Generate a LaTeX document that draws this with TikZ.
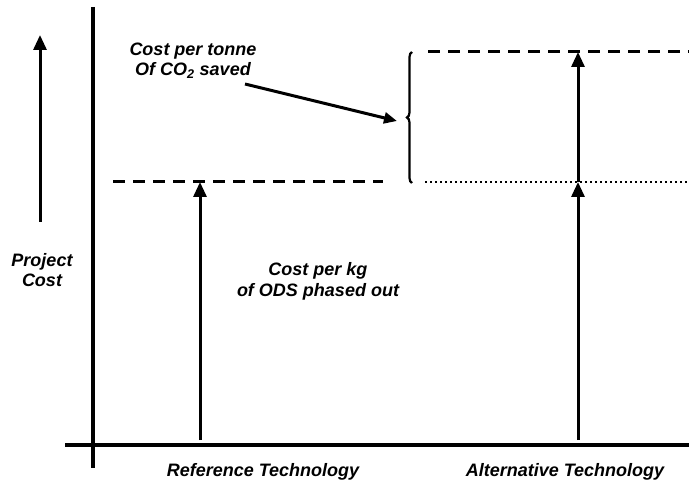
\documentclass[tikz,border=0pt]{standalone}
\usepackage{fontspec}
\setmainfont{Liberation Sans}
\usetikzlibrary{arrows.meta,decorations.pathreplacing}
\tikzset{
  lbl/.style={font=\fontsize{18}{21}\selectfont\bfseries\itshape, align=center, inner sep=0pt},
  axis/.style={line width=3.2pt},
  rise/.style={line width=3pt, -{Triangle[width=13pt,length=15pt]}},
  level/.style={line width=3pt, dash pattern=on 12pt off 8pt},
  dotlevel/.style={line width=2.2pt, dash pattern=on 1.5pt off 3.5pt}
}
\begin{document}
\begin{tikzpicture}[x=1pt,y=-1pt]
  \useasboundingbox (0,0) rectangle (689,492);

  % axes
  \draw[axis] (93,7) -- (93,468);
  \draw[axis] (65,445) -- (689,445);

  % project cost arrow
  \coordinate (pcbot) at (40,222);
  \coordinate (pctop) at (40,35);
  \draw[rise] (pcbot) -- (pctop);
  \node[lbl, font=\fontsize{18}{20}\selectfont\bfseries\itshape] (pc) at (42,270) {Project\\Cost};

  % levels
  \coordinate (refL) at (113,182);
  \coordinate (refR) at (383,182);
  \coordinate (refT) at (200,182);
  \coordinate (refB) at (200,440);
  \draw[level] (refL) -- (refR);
  \draw[rise] (refB) -- (refT);

  \coordinate (altL) at (428,52);
  \coordinate (altR) at (689,52);
  \coordinate (dotL) at (425,182);
  \coordinate (dotR) at (689,182);
  \coordinate (altB) at (578,440);
  \coordinate (altM) at (578,182);
  \coordinate (altT) at (578,52);
  \draw[level] (altL) -- (altR);
  \draw[dotlevel] (dotL) -- (dotR);
  \draw[rise] (altB) -- (altM);
  \draw[rise] (altM) -- (altT);

  % brace
  \coordinate (brB) at (412,183);
  \coordinate (brT) at (412,52);
  \draw[line width=2.2pt, decorate, decoration={brace, amplitude=5pt}] (brB) -- (brT);

  % labels
  \node[lbl, font=\fontsize{18}{20}\selectfont\bfseries\itshape] (tonne) at (193,61) {Cost per tonne\\Of CO\textsubscript{2} saved};
  \coordinate (tonneto) at (397,121);
  \draw[line width=3pt, -{Triangle[width=11pt,length=13pt]}] (245,84) -- (tonneto);

  \node[lbl] (kg) at (318,281) {Cost per kg\\of ODS phased out};
  \node[lbl] (reftech) at (263,472) {Reference Technology};
  \node[lbl] (alttech) at (565,472) {Alternative Technology};
\end{tikzpicture}
\end{document}
